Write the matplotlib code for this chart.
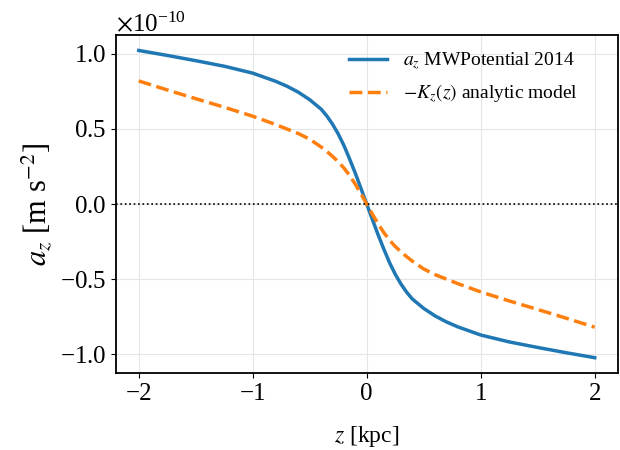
import matplotlib
matplotlib.use("Agg")
import matplotlib.pyplot as plt

plt.rcParams['font.family'] = ['Liberation Serif', 'DejaVu Serif']
plt.rcParams['mathtext.fontset'] = 'stix'

z_kpc = [-2.0, -1.75, -1.5, -1.25, -1.0, -0.8, -0.7, -0.6, -0.5, -0.4, -0.35, -0.3, -0.25, -0.2, -0.15, -0.1, -0.05,
         0.0, 0.05, 0.1, 0.15, 0.2, 0.25, 0.3, 0.35, 0.4, 0.5, 0.6, 0.7, 0.8, 1.0, 1.25, 1.5, 1.75, 2.0]
az_mw = [1.023, 0.99, 0.955, 0.918, 0.872, 0.818, 0.785, 0.745, 0.695, 0.632, 0.587, 0.532, 0.467, 0.39, 0.30, 0.205, 0.103,
         0.0, -0.103, -0.205, -0.30, -0.39, -0.467, -0.532, -0.587, -0.632, -0.695, -0.745, -0.785, -0.818, -0.872, -0.918, -0.955, -0.99, -1.023]
kz_model = [0.82, 0.76, 0.702, 0.645, 0.585, 0.53, 0.50, 0.47, 0.432, 0.38, 0.35, 0.318, 0.282, 0.24, 0.19, 0.132, 0.068,
            0.0, -0.068, -0.132, -0.19, -0.24, -0.282, -0.318, -0.35, -0.38, -0.432, -0.47, -0.50, -0.53, -0.585, -0.645, -0.702, -0.76, -0.82]
scale = 1e-10

fig = plt.figure(figsize=(6.2, 4.5), dpi=100)
ax = fig.add_subplot(111)
fig.subplots_adjust(left=0.187, right=0.996, bottom=0.171, top=0.922)

ax.plot(z_kpc, [v * scale for v in az_mw], color='#1f77b4', lw=2.5,
        label=r'$a_z$ MWPotential 2014')
ax.plot(z_kpc, [v * scale for v in kz_model], color='#ff7f0e', lw=2.5, ls='--',
        label=r'$-K_z(z)$ analytic model')
ax.axhline(0, color='black', ls=':', lw=1.2)

ax.grid(True, color='#e6e6e6', lw=0.8)
ax.set_axisbelow(True)
for s in ax.spines.values():
    s.set_linewidth(1.3)

ax.ticklabel_format(axis='y', style='sci', scilimits=(0, 0), useMathText=True)
ax.tick_params(labelsize=18)
ax.yaxis.get_offset_text().set_fontsize(18)
ax.set_xticks([-2, -1, 0, 1, 2])
ax.set_xlabel(r'$z$ [kpc]', fontsize=17, labelpad=14)
ax.set_ylabel(r'$a_z$ [m s$^{-2}$]', fontsize=22)

ax.legend(loc='upper right', bbox_to_anchor=(0.956, 1.005), frameon=False, fontsize=14)

fig.savefig('out.png', dpi=100)
